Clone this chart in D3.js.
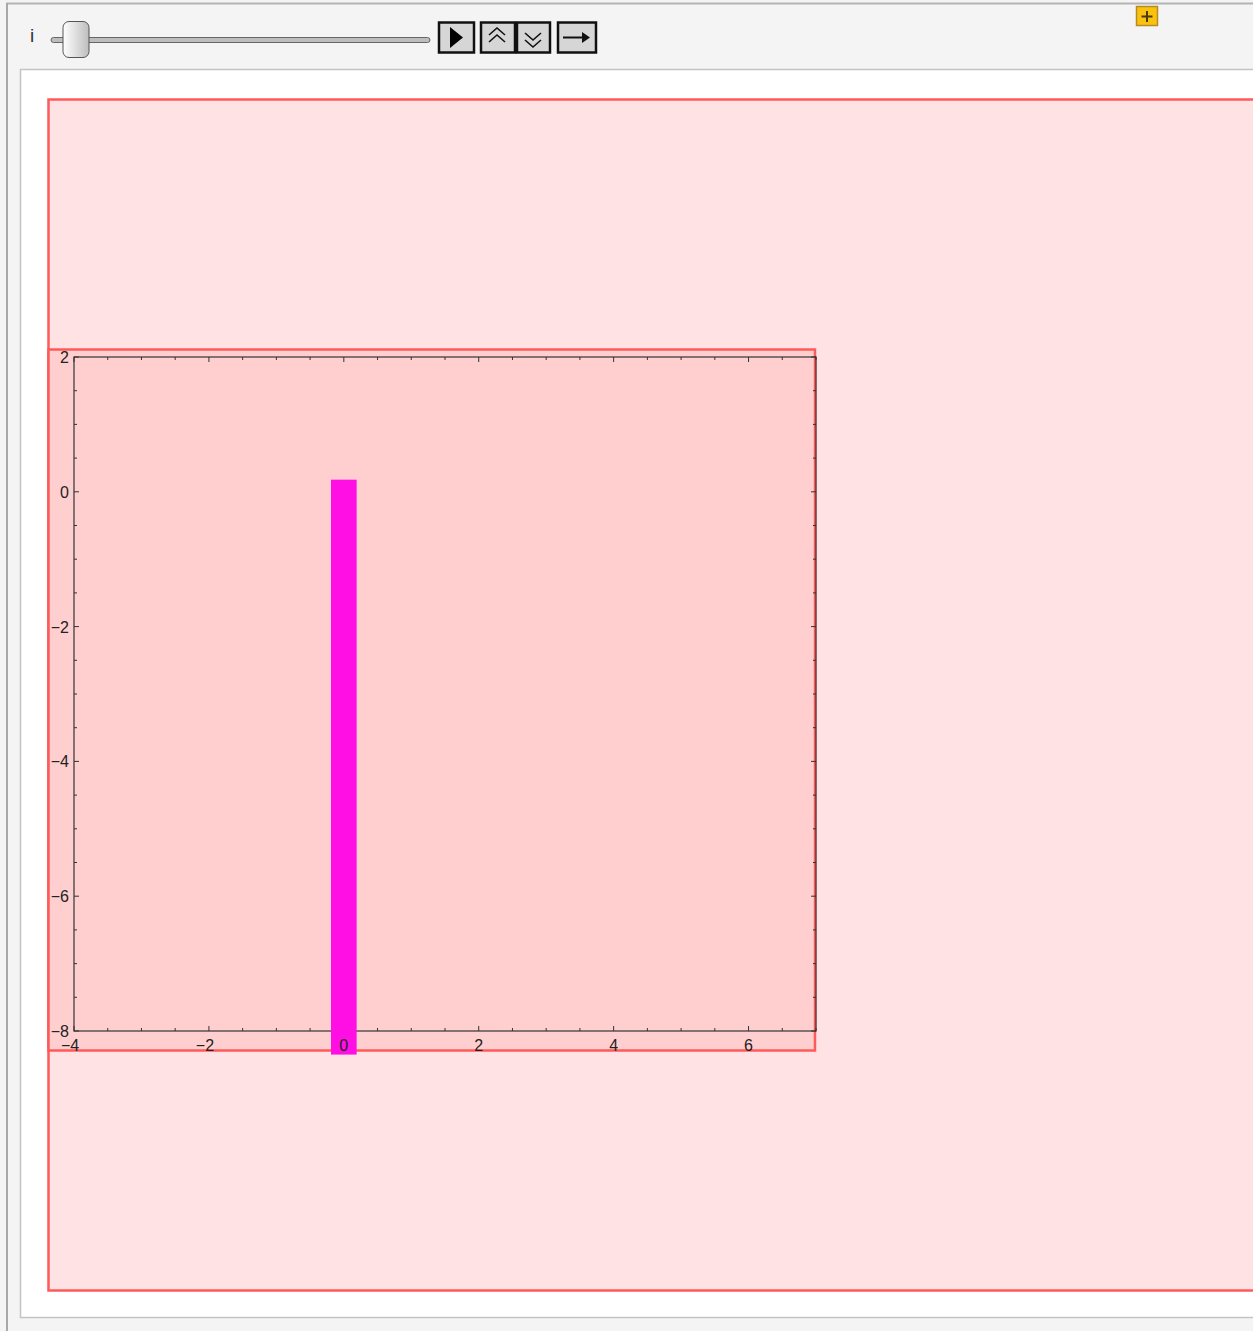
<!doctype html>
<html lang="en">
<head>
  <meta charset="utf-8">
  <title>Manipulate bar</title>
  <script src="https://d3js.org/d3.v7.min.js"></script>
  <style>
    body { margin: 0; background: #f4f4f4; }
    text { font-family: "Liberation Sans", Arial, sans-serif; }
  </style>
</head>
<body>
  <div id="chart"></div>
  <script type="text/javascript">

    var width = 1253, height = 1331;

    // data
    var xDomain = [-4, 7];
    var yDomain = [-8, 2];
    var xTickLabels = [-4, -2, 0, 2, 4, 6];
    var yTickLabels = [2, 0, -2, -4, -6, -8];
    var barX = [-0.19, 0.19];
    var barY = [-8.35, 0.18];
    var sliderValue = 0; // position of the "i" slider thumb, 0..1

    var svg = d3.select('#chart')
      .append('svg')
      .attr('width', width)
      .attr('height', height);

    // panel frame
    svg.append('rect').attr('x', 0).attr('y', 0).attr('width', width).attr('height', height).attr('fill', '#f4f4f4');
    svg.append('line').attr('x1', 6).attr('x2', width).attr('y1', 3.5).attr('y2', 3.5)
      .attr('stroke', '#b4b4b4').attr('stroke-width', 2);
    svg.append('line').attr('x1', 7).attr('x2', 7).attr('y1', 3).attr('y2', height)
      .attr('stroke', '#a8a8a8').attr('stroke-width', 2);
    svg.append('rect').attr('x', 20.5).attr('y', 69.5).attr('width', width).attr('height', 1248)
      .attr('fill', '#ffffff').attr('stroke', '#c4c4c4').attr('stroke-width', 1.5);

    // slider control
    svg.append('text').attr('x', 30).attr('y', 42).attr('font-size', 19).attr('fill', '#333').text('i');
    svg.append('rect').attr('x', 51).attr('y', 37.5).attr('width', 379).attr('height', 5).attr('rx', 2.5)
      .attr('fill', '#bdbdbd').attr('stroke', '#666').attr('stroke-width', 1);
    var grad = svg.append('defs').append('linearGradient').attr('id', 'thumb');
    grad.append('stop').attr('offset', '0%').attr('stop-color', '#ffffff');
    grad.append('stop').attr('offset', '100%').attr('stop-color', '#bdbdbd');
    var sliderScale = d3.scaleLinear().domain([0, 1]).range([63, 404]);
    svg.append('rect').attr('x', sliderScale(sliderValue)).attr('y', 21.5).attr('width', 26).attr('height', 36).attr('rx', 6)
      .attr('fill', 'url(#thumb)').attr('stroke', '#555').attr('stroke-width', 1);

    // playback buttons
    var buttons = [[438, 37], [480, 36], [516, 35], [557, 40]];
    buttons.forEach(function(b) {
      svg.append('rect').attr('x', b[0] + 1).attr('y', 22.5).attr('width', b[1] - 2).attr('height', 30)
        .attr('fill', '#d6d6d6').attr('stroke', '#111').attr('stroke-width', 2.5);
    });
    svg.append('path').attr('d', 'M450,27 L450,48 L463,37.5 Z').attr('fill', '#000');
    svg.append('path').attr('d', 'M489,35 L497,28 L505,35 M489,42 L497,35 L505,42')
      .attr('fill', 'none').attr('stroke', '#111').attr('stroke-width', 1.6);
    svg.append('path').attr('d', 'M525,33 L533,40 L541,33 M525,40 L533,47 L541,40')
      .attr('fill', 'none').attr('stroke', '#111').attr('stroke-width', 1.6);
    svg.append('path').attr('d', 'M563,37.5 L586,37.5').attr('stroke', '#111').attr('stroke-width', 2);
    svg.append('path').attr('d', 'M582,32 L590,37.5 L582,43 Z').attr('fill', '#111');

    // yellow plus button
    svg.append('rect').attr('x', 1136.5).attr('y', 6.5).attr('width', 21).attr('height', 19)
      .attr('fill', '#fbc10f').attr('stroke', '#b48c22').attr('stroke-width', 1.5);
    svg.append('path').attr('d', 'M1147,11 L1147,22 M1141.5,16.5 L1152.5,16.5')
      .attr('stroke', '#4a3a10').attr('stroke-width', 2);

    // outer pink region
    svg.append('rect').attr('x', 48.5).attr('y', 99.5).attr('width', 1220).attr('height', 1191)
      .attr('fill', '#ffe3e4').attr('stroke', '#ff5a5a').attr('stroke-width', 2.5);

    // inner pink region
    svg.append('rect').attr('x', 48.5).attr('y', 349.5).attr('width', 766.5).attr('height', 701)
      .attr('fill', '#ffcfcf').attr('stroke', '#ff5a5a').attr('stroke-width', 2.5);

    // plot scales
    var x = d3.scaleLinear().domain(xDomain).range([74, 816]);
    var y = d3.scaleLinear().domain(yDomain).range([1031, 357]);

    var frame = svg.append('g');

    var minorX = d3.range(xDomain[0], xDomain[1] + 0.01, 0.5);
    var minorY = d3.range(yDomain[0], yDomain[1] + 0.01, 0.5);

    function tickLen(v) { return Math.abs(v % 2) < 0.01 ? 5 : 3; }

    // bottom and top ticks
    minorX.forEach(function(v) {
      frame.append('line').attr('x1', x(v)).attr('x2', x(v)).attr('y1', y(yDomain[0])).attr('y2', y(yDomain[0]) - tickLen(v))
        .attr('stroke', '#333').attr('stroke-width', 1);
      frame.append('line').attr('x1', x(v)).attr('x2', x(v)).attr('y1', y(yDomain[1])).attr('y2', y(yDomain[1]) + tickLen(v))
        .attr('stroke', '#333').attr('stroke-width', 1);
    });
    // left and right ticks
    minorY.forEach(function(v) {
      frame.append('line').attr('x1', x(xDomain[0])).attr('x2', x(xDomain[0]) + tickLen(v)).attr('y1', y(v)).attr('y2', y(v))
        .attr('stroke', '#333').attr('stroke-width', 1);
      frame.append('line').attr('x1', x(xDomain[1])).attr('x2', x(xDomain[1]) - tickLen(v)).attr('y1', y(v)).attr('y2', y(v))
        .attr('stroke', '#333').attr('stroke-width', 1);
    });

    frame.append('rect')
      .attr('x', x(xDomain[0])).attr('y', y(yDomain[1]))
      .attr('width', x(xDomain[1]) - x(xDomain[0])).attr('height', y(yDomain[0]) - y(yDomain[1]))
      .attr('fill', 'none').attr('stroke', '#333').attr('stroke-width', 1.2);

    // the magenta bar
    svg.append('rect')
      .attr('x', x(barX[0]))
      .attr('y', y(barY[1]))
      .attr('width', x(barX[1]) - x(barX[0]))
      .attr('height', y(barY[0]) - y(barY[1]))
      .attr('fill', '#ff0fe4');

    function fmt(v) { return v < 0 ? '\u2212' + Math.abs(v) : String(v); }

    // tick labels drawn on top of the bar
    svg.selectAll('.xlab').data(xTickLabels).enter().append('text')
      .attr('class', 'xlab')
      .attr('x', function(d) { return x(d) - (d < 0 ? 4 : 0); })
      .attr('y', 1051)
      .attr('text-anchor', 'middle')
      .attr('font-size', 16)
      .attr('fill', '#222')
      .text(fmt);

    svg.selectAll('.ylab').data(yTickLabels).enter().append('text')
      .attr('class', 'ylab')
      .attr('x', 69)
      .attr('y', function(d) { return y(d) + 6; })
      .attr('text-anchor', 'end')
      .attr('font-size', 16)
      .attr('fill', '#222')
      .text(fmt);

  </script>
</body>
</html>
